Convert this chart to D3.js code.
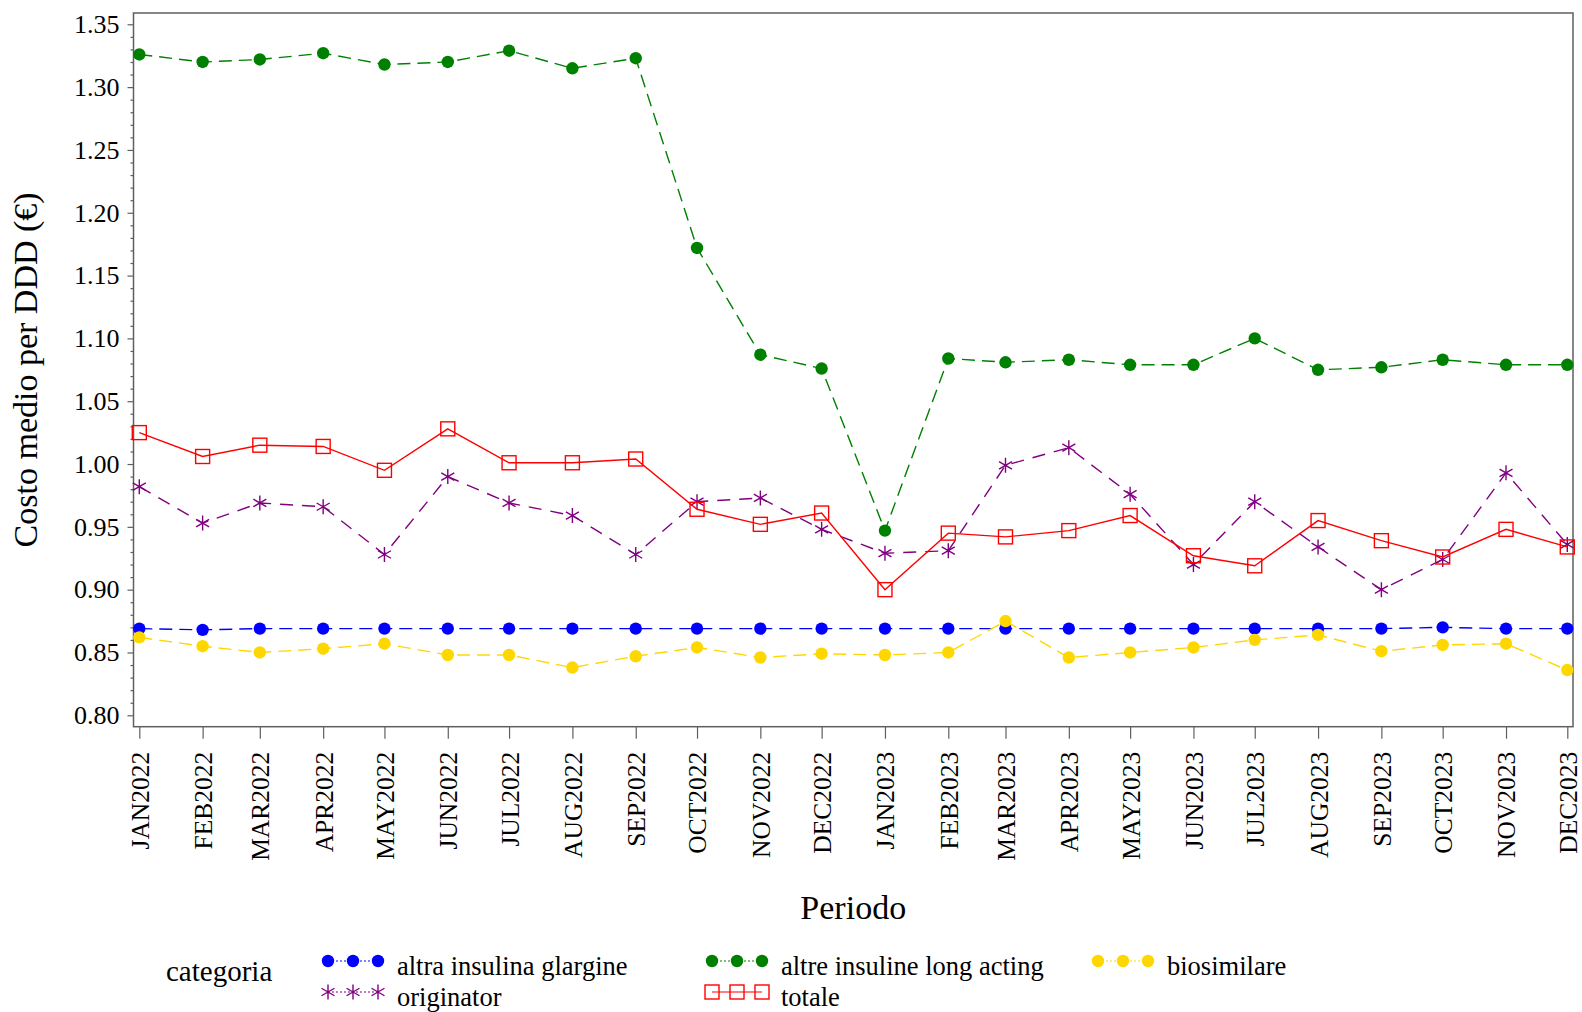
<!DOCTYPE html>
<html><head><meta charset="utf-8">
<script src="https://cdn.jsdelivr.net/npm/d3@7"></script>
<style>
body{margin:0;background:#fff}
svg{display:block}
svg text{font-family:"Liberation Serif","Times New Roman",serif !important}
</style>
</head><body>
<svg id="c" width="1582" height="1012"></svg>
<script>
// ---- data ----
const months = ["JAN2022","FEB2022","MAR2022","APR2022","MAY2022","JUN2022","JUL2022","AUG2022","SEP2022","OCT2022","NOV2022","DEC2022",
                "JAN2023","FEB2023","MAR2023","APR2023","MAY2023","JUN2023","JUL2023","AUG2023","SEP2023","OCT2023","NOV2023","DEC2023"];
const altraGlargine   = [0.869,0.868,0.869,0.869,0.869,0.869,0.869,0.869,0.869,0.869,0.869,0.869,0.869,0.869,0.869,0.869,0.869,0.869,0.869,0.869,0.869,0.870,0.869,0.869];
const altreLongActing = [1.326,1.320,1.322,1.327,1.318,1.320,1.329,1.315,1.323,1.172,1.087,1.076,0.947,1.084,1.081,1.083,1.079,1.079,1.100,1.075,1.077,1.083,1.079,1.079];
const biosimilare     = [0.862,0.855,0.850,0.853,0.857,0.848,0.848,0.838,0.847,0.854,0.846,0.849,0.848,0.850,0.875,0.846,0.850,0.854,0.860,0.864,0.851,0.856,0.857,0.836];
const originator      = [0.982,0.953,0.969,0.966,0.928,0.990,0.969,0.959,0.928,0.970,0.973,0.948,0.929,0.931,0.999,1.013,0.976,0.920,0.970,0.934,0.900,0.924,0.993,0.936];
const totale          = [1.025,1.006,1.015,1.014,0.995,1.028,1.001,1.001,1.004,0.964,0.952,0.961,0.900,0.945,0.942,0.947,0.959,0.927,0.919,0.955,0.939,0.926,0.948,0.934];
const yTicks = [0.80,0.85,0.90,0.95,1.00,1.05,1.10,1.15,1.20,1.25,1.30,1.35];
const yMinor = d3.range(80,136).filter(v => v % 5 !== 0).map(v => v/100);
const seriesNames = ["altra insulina glargine","altre insuline long acting","biosimilare","originator","totale"];
const xTitle = "Periodo", yTitle = "Costo medio per DDD (€)", legendTitle = "categoria";

// ---- styles ----
const FONT = '"Liberation Serif","Times New Roman",serif';
const series = [
  {name: seriesNames[0], values: altraGlargine,   color:"#0000ff", dash:"13,7", marker:"circle"},
  {name: seriesNames[1], values: altreLongActing, color:"#008000", dash:"13,7", marker:"circle"},
  {name: seriesNames[2], values: biosimilare,     color:"#ffd700", dash:"13,7", marker:"circle"},
  {name: seriesNames[3], values: originator,      color:"#800080", dash:"13,9", marker:"star"},
  {name: seriesNames[4], values: totale,          color:"#ff0000", dash:null,   marker:"square"}
];

const parse = d3.timeParse("%b%Y");
const dates = months.map(m => parse(m));

const svg = d3.select("#c");
const frame = {l:133.5, t:13, r:1573, b:726.7};

const x = d3.scaleTime().domain([dates[0], dates[dates.length-1]]).range([139.3, 1567.3]);
const y = d3.scaleLinear().domain([0.80, 1.35]).range([715.3, 24.3]);

// frame
svg.append("rect").attr("x",frame.l).attr("y",frame.t)
  .attr("width",frame.r-frame.l).attr("height",frame.b-frame.t)
  .attr("fill","none").attr("stroke","#5f5f5f").attr("stroke-width",1.5);

// y axis
const yAxis = svg.append("g").attr("transform",`translate(${frame.l},0)`)
  .call(d3.axisLeft(y).tickValues(yTicks).tickFormat(d3.format(".2f")).tickSize(6).tickPadding(8))
  .attr("font-family", FONT).attr("font-size", 26);
yAxis.select(".domain").remove();
yAxis.selectAll("line").attr("stroke","#5f5f5f").attr("stroke-width",1.2);
yAxis.selectAll("text").style("font-family", FONT).style("font-size","26px").attr("fill","#000");
const yMin = svg.append("g").attr("transform",`translate(${frame.l},0)`)
  .call(d3.axisLeft(y).tickValues(yMinor).tickFormat("").tickSize(3));
yMin.select(".domain").remove();
yMin.selectAll("line").attr("stroke","#5f5f5f").attr("stroke-width",1.2);

// x axis
const xAxis = svg.append("g").attr("transform",`translate(0,${frame.b})`)
  .call(d3.axisBottom(x).tickValues(dates).tickFormat((d,i) => months[i]).tickSize(12))
  .attr("font-family", FONT).attr("font-size", 25.5);
xAxis.select(".domain").remove();
xAxis.selectAll("line").attr("stroke","#5f5f5f").attr("stroke-width",1.2);
xAxis.selectAll("text").style("font-family", FONT).style("font-size","25.5px").attr("fill","#000")
  .attr("transform","rotate(-90)").attr("text-anchor","end")
  .attr("x",-25).attr("y",0).attr("dy","0.35em");

// titles
svg.append("text").attr("x",(frame.l+frame.r)/2).attr("y",919).attr("text-anchor","middle")
  .style("font-family", FONT).attr("font-size","34px").text(xTitle);
svg.append("text").attr("transform",`translate(37,${(frame.t+frame.b)/2}) rotate(-90)`)
  .style("font-family", FONT).attr("text-anchor","middle").attr("font-size","34px").text(yTitle);

// markers
const starPath = s => {
  const a = Math.PI/6, c = Math.cos(a)*s, sn = Math.sin(a)*s;
  return `M0,${-s}L0,${s}M${-c},${-sn}L${c},${sn}M${-c},${sn}L${c},${-sn}`;
};
function drawMarker(g, type, color, cx, cy) {
  if (type === "circle") {
    g.append("circle").attr("cx",cx).attr("cy",cy).attr("r",6.2).attr("fill",color);
  } else if (type === "square") {
    g.append("rect").attr("x",cx-7).attr("y",cy-7).attr("width",14).attr("height",14)
      .attr("fill","none").attr("stroke",color).attr("stroke-width",1.4);
  } else {
    g.append("path").attr("transform",`translate(${cx},${cy})`).attr("d",starPath(7.5))
      .attr("fill","none").attr("stroke",color).attr("stroke-width",1.4);
  }
}

const line = d3.line().x((d,i) => x(dates[i])).y(d => y(d));
series.forEach(s => {
  const g = svg.append("g");
  g.append("path").attr("d", line(s.values)).attr("fill","none")
    .attr("stroke", s.color).attr("stroke-width",1.4)
    .attr("stroke-dasharray", s.dash);
  s.values.forEach((v,i) => drawMarker(g, s.marker, s.color, x(dates[i]), y(v)));
});

// legend
svg.append("text").attr("x",166).attr("y",974).attr("dominant-baseline","middle")
  .style("font-family", FONT).attr("font-size","29px").text(legendTitle);
const legPos = [
  {x:328, y:961},{x:712, y:961},{x:1098, y:961},
  {x:328, y:992},{x:712, y:992}
];
series.forEach((s,i) => {
  const p = legPos[i];
  const g = svg.append("g");
  g.append("line").attr("x1",p.x).attr("x2",p.x+50).attr("y1",p.y).attr("y2",p.y)
    .attr("stroke",s.color).attr("stroke-width",1.2)
    .attr("stroke-dasharray", s.dash ? "2,2" : null);
  [0,25,50].forEach(o => drawMarker(g, s.marker, s.color, p.x+o, p.y));
  g.append("text").attr("x",p.x+69).attr("y",p.y+8).attr("dominant-baseline","middle")
    .style("font-family", FONT).attr("font-size","26.5px").text(s.name);
});
</script>
</body></html>
